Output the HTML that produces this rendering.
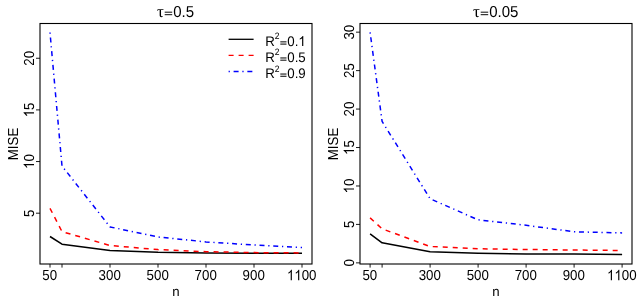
<!DOCTYPE html>
<html><head><meta charset="utf-8"><title>MISE plots</title>
<style>
html,body{margin:0;padding:0;background:#fff;}
body{width:640px;height:304px;overflow:hidden;}
svg{display:block;will-change:transform;}
text{font-family:"Liberation Sans",sans-serif;fill:#000;text-rendering:geometricPrecision;}
.tau{font-family:"Liberation Serif",serif;font-size:17px;}
</style></head><body>
<svg width="640" height="304" viewBox="0 0 640 304">
<rect width="640" height="304" fill="#fff"/>
<polyline points="50.00,236.50 62.00,244.20 110.00,250.40 158.00,252.30 206.00,253.10 254.00,253.20 302.00,253.30" fill="none" stroke="#000" stroke-width="1.5" stroke-linejoin="round"/>
<polyline points="50.00,208.30 62.00,231.60 110.00,245.50 158.00,249.60 206.00,251.70 254.00,252.60 302.00,252.90" fill="none" stroke="#ff0000" stroke-width="1.5" stroke-linejoin="round" stroke-dasharray="5 5"/>
<polyline points="50.00,32.50 62.00,166.00 110.00,226.90 158.00,237.00 206.00,241.90 254.00,245.00 302.00,247.50" fill="none" stroke="#0000ff" stroke-width="1.5" stroke-linejoin="round" stroke-dasharray="1.25 3.75 5 3.75"/>
<rect x="40.00" y="23.50" width="272.00" height="240.50" fill="none" stroke="#000" stroke-width="1.1"/>
<line x1="50.00" y1="264.00" x2="50.00" y2="267.60" stroke="#000" stroke-width="0.9"/>
<line x1="62.00" y1="264.00" x2="62.00" y2="267.60" stroke="#000" stroke-width="0.9"/>
<line x1="110.00" y1="264.00" x2="110.00" y2="267.60" stroke="#000" stroke-width="0.9"/>
<line x1="158.00" y1="264.00" x2="158.00" y2="267.60" stroke="#000" stroke-width="0.9"/>
<line x1="206.00" y1="264.00" x2="206.00" y2="267.60" stroke="#000" stroke-width="0.9"/>
<line x1="254.00" y1="264.00" x2="254.00" y2="267.60" stroke="#000" stroke-width="0.9"/>
<line x1="302.00" y1="264.00" x2="302.00" y2="267.60" stroke="#000" stroke-width="0.9"/>
<g transform="translate(49.70,280.20) scale(0.917,1)"><text x="-8.06" y="0" font-size="14.50px">50</text></g>
<g transform="translate(109.70,280.20) scale(0.917,1)"><text x="-12.10" y="0" font-size="14.50px">300</text></g>
<g transform="translate(157.70,280.20) scale(0.917,1)"><text x="-12.10" y="0" font-size="14.50px">500</text></g>
<g transform="translate(205.70,280.20) scale(0.917,1)"><text x="-12.10" y="0" font-size="14.50px">700</text></g>
<g transform="translate(253.70,280.20) scale(0.917,1)"><text x="-12.10" y="0" font-size="14.50px">900</text></g>
<g transform="translate(301.70,280.20) scale(0.917,1)"><path transform="translate(-16.13,0) scale(0.00708,-0.00708)" d="M763 0H583V1147Q518 1085 412.5 1023T223 930V1104Q374 1175 487 1276T647 1472H763Z"/><path transform="translate(-8.06,0) scale(0.00708,-0.00708)" d="M763 0H583V1147Q518 1085 412.5 1023T223 930V1104Q374 1175 487 1276T647 1472H763Z"/><text x="0.00" y="0" font-size="14.50px">00</text></g>
<line x1="36.00" y1="213.20" x2="40.00" y2="213.20" stroke="#000" stroke-width="0.9"/>
<g transform="translate(34.00,213.20) rotate(-90) scale(0.917,1)"><text x="-4.03" y="0" font-size="14.50px">5</text></g>
<line x1="36.00" y1="161.55" x2="40.00" y2="161.55" stroke="#000" stroke-width="0.9"/>
<g transform="translate(34.00,161.55) rotate(-90) scale(0.917,1)"><path transform="translate(-8.06,0) scale(0.00708,-0.00708)" d="M763 0H583V1147Q518 1085 412.5 1023T223 930V1104Q374 1175 487 1276T647 1472H763Z"/><text x="0.00" y="0" font-size="14.50px">0</text></g>
<line x1="36.00" y1="109.90" x2="40.00" y2="109.90" stroke="#000" stroke-width="0.9"/>
<g transform="translate(34.00,109.90) rotate(-90) scale(0.917,1)"><path transform="translate(-8.06,0) scale(0.00708,-0.00708)" d="M763 0H583V1147Q518 1085 412.5 1023T223 930V1104Q374 1175 487 1276T647 1472H763Z"/><text x="0.00" y="0" font-size="14.50px">5</text></g>
<line x1="36.00" y1="58.25" x2="40.00" y2="58.25" stroke="#000" stroke-width="0.9"/>
<g transform="translate(34.00,58.25) rotate(-90) scale(0.917,1)"><text x="-8.06" y="0" font-size="14.50px">20</text></g>
<g transform="translate(176.00,295.80) scale(0.990,1)"><text x="-3.73" y="0" font-size="13.40px">n</text></g>
<g transform="translate(18.00,144.00) rotate(-90) scale(0.917,1)"><text x="-17.72" y="0" font-size="14.50px">MISE</text></g>
<text x="156.90" y="16.9" class="tau">τ</text>
<rect x="164.70" y="11.65" width="7.50" height="1.10" fill="#222"/><rect x="164.70" y="14.10" width="7.50" height="1.10" fill="#222"/>
<g transform="translate(173.20,17.00) scale(0.950,1)"><text x="0.00" y="0" font-size="15.80px">0.5</text></g>
<line x1="228.6" y1="39.30" x2="253.6" y2="39.30" stroke="#000" stroke-width="1.3"/>
<g transform="translate(265.20,45.90) scale(0.963,1)"><text x="0.00" y="0" font-size="13.80px">R</text></g>
<g transform="translate(274.70,39.30) scale(0.920,1)"><text x="0.00" y="0" font-size="9.30px">2</text></g>
<rect x="280.30" y="41.27" width="6.20" height="1.15" fill="#222"/><rect x="280.30" y="43.52" width="6.20" height="1.15" fill="#222"/>
<g transform="translate(287.25,45.90) scale(0.963,1)"><text x="0.00" y="0" font-size="13.80px">0.</text><path transform="translate(11.51,0) scale(0.00674,-0.00674)" d="M763 0H583V1147Q518 1085 412.5 1023T223 930V1104Q374 1175 487 1276T647 1472H763Z"/></g>
<line x1="228.6" y1="55.40" x2="253.6" y2="55.40" stroke="#ff0000" stroke-width="1.3" stroke-dasharray="5 5"/>
<g transform="translate(265.20,62.00) scale(0.963,1)"><text x="0.00" y="0" font-size="13.80px">R</text></g>
<g transform="translate(274.70,55.40) scale(0.920,1)"><text x="0.00" y="0" font-size="9.30px">2</text></g>
<rect x="280.30" y="57.38" width="6.20" height="1.15" fill="#222"/><rect x="280.30" y="59.62" width="6.20" height="1.15" fill="#222"/>
<g transform="translate(287.25,62.00) scale(0.963,1)"><text x="0.00" y="0" font-size="13.80px">0.5</text></g>
<line x1="228.6" y1="71.50" x2="253.6" y2="71.50" stroke="#0000ff" stroke-width="1.3" stroke-dasharray="1.25 3.75 5 3.75"/>
<g transform="translate(265.20,78.10) scale(0.963,1)"><text x="0.00" y="0" font-size="13.80px">R</text></g>
<g transform="translate(274.70,71.50) scale(0.920,1)"><text x="0.00" y="0" font-size="9.30px">2</text></g>
<rect x="280.30" y="73.47" width="6.20" height="1.15" fill="#222"/><rect x="280.30" y="75.72" width="6.20" height="1.15" fill="#222"/>
<g transform="translate(287.25,78.10) scale(0.963,1)"><text x="0.00" y="0" font-size="13.80px">0.9</text></g>
<polyline points="370.10,233.80 382.10,242.80 430.10,251.80 478.10,253.20 526.10,253.90 574.10,253.90 622.10,254.40" fill="none" stroke="#000" stroke-width="1.5" stroke-linejoin="round"/>
<polyline points="370.10,217.90 382.10,228.80 430.10,246.50 478.10,248.80 526.10,249.50 574.10,250.00 622.10,250.50" fill="none" stroke="#ff0000" stroke-width="1.5" stroke-linejoin="round" stroke-dasharray="5 5"/>
<polyline points="370.10,32.30 382.10,121.40 430.10,198.80 478.10,219.80 526.10,225.30 574.10,231.80 622.10,232.90" fill="none" stroke="#0000ff" stroke-width="1.5" stroke-linejoin="round" stroke-dasharray="1.25 3.75 5 3.75"/>
<rect x="360.00" y="23.50" width="272.00" height="240.50" fill="none" stroke="#000" stroke-width="1.1"/>
<line x1="370.10" y1="264.00" x2="370.10" y2="267.60" stroke="#000" stroke-width="0.9"/>
<line x1="382.10" y1="264.00" x2="382.10" y2="267.60" stroke="#000" stroke-width="0.9"/>
<line x1="430.10" y1="264.00" x2="430.10" y2="267.60" stroke="#000" stroke-width="0.9"/>
<line x1="478.10" y1="264.00" x2="478.10" y2="267.60" stroke="#000" stroke-width="0.9"/>
<line x1="526.10" y1="264.00" x2="526.10" y2="267.60" stroke="#000" stroke-width="0.9"/>
<line x1="574.10" y1="264.00" x2="574.10" y2="267.60" stroke="#000" stroke-width="0.9"/>
<line x1="622.10" y1="264.00" x2="622.10" y2="267.60" stroke="#000" stroke-width="0.9"/>
<g transform="translate(369.80,280.20) scale(0.917,1)"><text x="-8.06" y="0" font-size="14.50px">50</text></g>
<g transform="translate(429.80,280.20) scale(0.917,1)"><text x="-12.10" y="0" font-size="14.50px">300</text></g>
<g transform="translate(477.80,280.20) scale(0.917,1)"><text x="-12.10" y="0" font-size="14.50px">500</text></g>
<g transform="translate(525.80,280.20) scale(0.917,1)"><text x="-12.10" y="0" font-size="14.50px">700</text></g>
<g transform="translate(573.80,280.20) scale(0.917,1)"><text x="-12.10" y="0" font-size="14.50px">900</text></g>
<g transform="translate(621.80,280.20) scale(0.917,1)"><path transform="translate(-16.13,0) scale(0.00708,-0.00708)" d="M763 0H583V1147Q518 1085 412.5 1023T223 930V1104Q374 1175 487 1276T647 1472H763Z"/><path transform="translate(-8.06,0) scale(0.00708,-0.00708)" d="M763 0H583V1147Q518 1085 412.5 1023T223 930V1104Q374 1175 487 1276T647 1472H763Z"/><text x="0.00" y="0" font-size="14.50px">00</text></g>
<line x1="356.00" y1="262.87" x2="360.00" y2="262.87" stroke="#000" stroke-width="0.9"/>
<g transform="translate(354.00,262.87) rotate(-90) scale(0.917,1)"><text x="-4.03" y="0" font-size="14.50px">0</text></g>
<line x1="356.00" y1="224.42" x2="360.00" y2="224.42" stroke="#000" stroke-width="0.9"/>
<g transform="translate(354.00,224.42) rotate(-90) scale(0.917,1)"><text x="-4.03" y="0" font-size="14.50px">5</text></g>
<line x1="356.00" y1="185.97" x2="360.00" y2="185.97" stroke="#000" stroke-width="0.9"/>
<g transform="translate(354.00,185.97) rotate(-90) scale(0.917,1)"><path transform="translate(-8.06,0) scale(0.00708,-0.00708)" d="M763 0H583V1147Q518 1085 412.5 1023T223 930V1104Q374 1175 487 1276T647 1472H763Z"/><text x="0.00" y="0" font-size="14.50px">0</text></g>
<line x1="356.00" y1="147.52" x2="360.00" y2="147.52" stroke="#000" stroke-width="0.9"/>
<g transform="translate(354.00,147.52) rotate(-90) scale(0.917,1)"><path transform="translate(-8.06,0) scale(0.00708,-0.00708)" d="M763 0H583V1147Q518 1085 412.5 1023T223 930V1104Q374 1175 487 1276T647 1472H763Z"/><text x="0.00" y="0" font-size="14.50px">5</text></g>
<line x1="356.00" y1="109.07" x2="360.00" y2="109.07" stroke="#000" stroke-width="0.9"/>
<g transform="translate(354.00,109.07) rotate(-90) scale(0.917,1)"><text x="-8.06" y="0" font-size="14.50px">20</text></g>
<line x1="356.00" y1="70.62" x2="360.00" y2="70.62" stroke="#000" stroke-width="0.9"/>
<g transform="translate(354.00,70.62) rotate(-90) scale(0.917,1)"><text x="-8.06" y="0" font-size="14.50px">25</text></g>
<line x1="356.00" y1="32.17" x2="360.00" y2="32.17" stroke="#000" stroke-width="0.9"/>
<g transform="translate(354.00,32.17) rotate(-90) scale(0.917,1)"><text x="-8.06" y="0" font-size="14.50px">30</text></g>
<g transform="translate(496.00,295.80) scale(0.990,1)"><text x="-3.73" y="0" font-size="13.40px">n</text></g>
<g transform="translate(338.10,144.00) rotate(-90) scale(0.917,1)"><text x="-17.72" y="0" font-size="14.50px">MISE</text></g>
<text x="472.90" y="16.9" class="tau">τ</text>
<rect x="480.70" y="11.65" width="7.50" height="1.10" fill="#222"/><rect x="480.70" y="14.10" width="7.50" height="1.10" fill="#222"/>
<g transform="translate(489.20,17.00) scale(0.950,1)"><text x="0.00" y="0" font-size="15.80px">0.05</text></g>
</svg>
</body></html>
